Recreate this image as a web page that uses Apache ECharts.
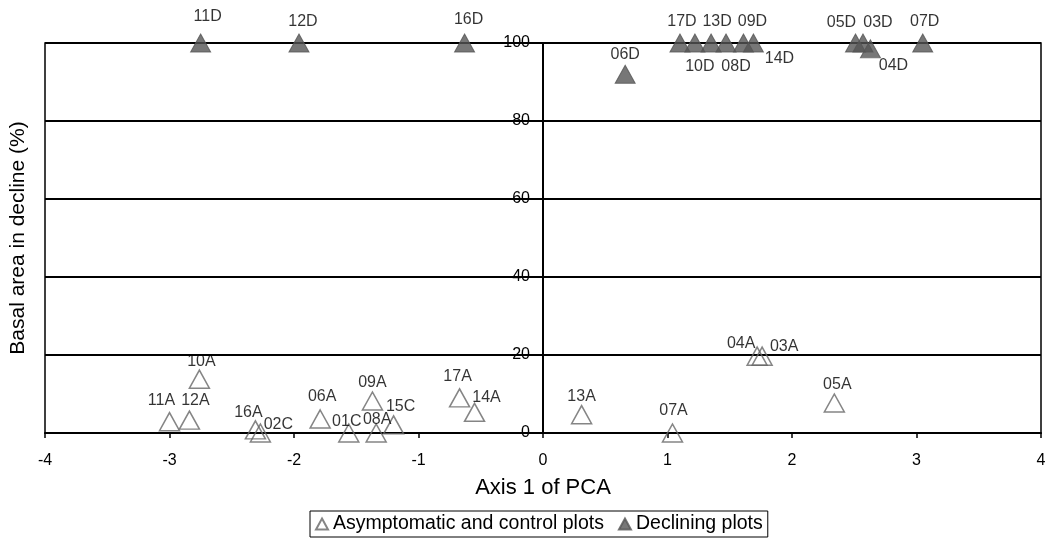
<!DOCTYPE html>
<html>
<head>
<meta charset="utf-8">
<script src="https://cdn.jsdelivr.net/npm/echarts@6/dist/echarts.min.js"></script>
<style>
  html, body { margin: 0; padding: 0; background: #fff; }
  #chart { width: 1045px; height: 538px; }
</style>
</head>
<body>
<div id="chart"></div>
<script>
// declining plots
var declNames = ["11D", "12D", "16D", "06D", "17D", "10D", "13D", "08D", "09D", "14D", "05D", "03D", "04D", "07D"];
var declX = [-2.75, -1.96, -0.63, 0.66, 1.10, 1.22, 1.35, 1.47, 1.61, 1.69, 2.51, 2.57, 2.63, 3.05];
var declY = [100, 100, 100, 92, 100, 100, 100, 100, 100, 100, 100, 100, 98.5, 100];

// asymptomatic and control plots
var asymNames = ["10A", "11A", "12A", "16A", "02C", "06A", "01C", "08A", "09A", "15C", "17A", "14A", "13A", "07A", "04A", "03A", "05A"];
var asymX = [-2.76, -3.00, -2.84, -2.31, -2.27, -1.79, -1.56, -1.34, -1.37, -1.20, -0.67, -0.55, 0.31, 1.04, 1.72, 1.76, 2.34];
var asymY = [13.8, 2.9, 3.3, 0.8, 0, 3.6, 0, 0, 8.2, 2.1, 9.0, 5.3, 4.7, 0, 19.7, 19.7, 7.7];

var seriesNames = ["Asymptomatic and control plots", "Declining plots"];

// label offsets (centre of text relative to marker centre)
var labelOffset = {
    "11D": [7, -26], "12D": [4, -21], "16D": [4, -23], "06D": [0, -20],
    "17D": [2, -21], "10D": [5, 24], "13D": [6, -21], "08D": [10, 24],
    "09D": [9, -21], "14D": [26, 16], "05D": [-14, -20], "03D": [15, -20],
    "04D": [23, 17], "07D": [2, -21],
    "10A": [2, -18], "11A": [-8, -21], "12A": [6, -20], "16A": [-7, -17],
    "02C": [18, -8], "06A": [2, -22], "01C": [-2, -11], "08A": [1, -13],
    "09A": [0, -18], "15C": [7, -18], "17A": [-2, -21], "14A": [12, -15],
    "13A": [0, -18], "07A": [1, -22], "04A": [-16, -13], "03A": [22, -10],
    "05A": [3, -18]
};

function buildData(names, xs, ys) {
    var out = [];
    for (var i = 0; i < names.length; i++) {
        out.push({
            name: names[i],
            value: [xs[i], ys[i]],
            label: { offset: labelOffset[names[i]] || [0, -20] }
        });
    }
    return out;
}

var font = "'Liberation Sans', Arial, sans-serif";

// grid box; the y axis sits at x = 0, i.e. in the middle of the box
var gridLeft = 45, gridRight = 4;
var chartWidth = 1045;
var zeroShift = ((chartWidth - gridLeft - gridRight) / 2);

var chart = echarts.init(document.getElementById("chart"));
var option = {
    animation: false,
    grid: {
        left: gridLeft, right: gridRight, top: 43, bottom: 105,
        outerBoundsMode: "none",
        containLabel: false,
        show: true, borderColor: "#000", borderWidth: 1.5
    },
    xAxis: {
        type: "value",
        min: -4, max: 4, interval: 1,
        name: "Axis 1 of PCA",
        nameLocation: "middle",
        nameGap: 44,
        nameTextStyle: { fontSize: 22, color: "#000", fontFamily: font },
        axisLine: { onZero: false, lineStyle: { color: "#000", width: 2 } },
        axisTick: { show: true, length: 5, lineStyle: { color: "#000", width: 1.5 } },
        axisLabel: { fontSize: 16, color: "#000", margin: 20, fontFamily: font },
        splitLine: { show: false }
    },
    yAxis: {
        type: "value",
        min: 0, max: 100, interval: 20,
        position: "left",
        offset: -zeroShift,
        name: "Basal area in decline (%)",
        nameLocation: "middle",
        nameGap: zeroShift + 16,
        nameTextStyle: { fontSize: 21, color: "#000", fontFamily: font },
        axisLine: { onZero: false, lineStyle: { color: "#000", width: 2 } },
        axisTick: { show: true, length: 5, lineStyle: { color: "#000", width: 1.5 } },
        axisLabel: { fontSize: 16, color: "#000", margin: 13, fontFamily: font },
        splitLine: { show: true, lineStyle: { color: "#000", width: 2 } }
    },
    legend: {
        data: seriesNames,
        left: 310,
        top: 511,
        padding: [3, 5],
        itemGap: 14,
        itemWidth: 12,
        itemHeight: 11,
        borderColor: "#000",
        borderWidth: 1,
        textStyle: { fontSize: 19.5, color: "#000", fontFamily: font }
    },
    series: [
        {
            name: seriesNames[0],
            type: "scatter",
            symbol: "triangle",
            symbolSize: [20, 18],
            itemStyle: { color: "rgba(255,255,255,0)", borderColor: "#666", borderWidth: 1.5 },
            label: {
                show: true, position: "inside",
                formatter: "{b}", fontSize: 16, color: "#000", fontFamily: font
            },
            data: buildData(asymNames, asymX, asymY)
        },
        {
            name: seriesNames[1],
            type: "scatter",
            symbol: "triangle",
            symbolSize: [20, 18],
            itemStyle: { color: "#555", borderColor: "#555", borderWidth: 1 },
            label: {
                show: true, position: "inside",
                formatter: "{b}", fontSize: 16, color: "#000", fontFamily: font
            },
            data: buildData(declNames, declX, declY)
        }
    ]
};
chart.setOption(option);
</script>
</body>
</html>
